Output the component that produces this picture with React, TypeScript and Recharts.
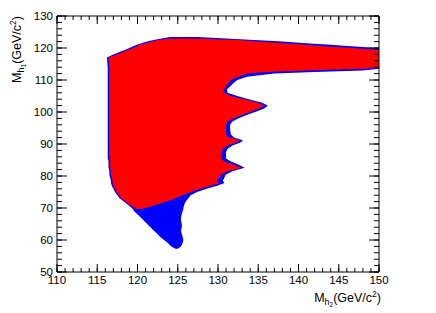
import { ComposedChart, Area, XAxis, YAxis } from "recharts";

// M_h1 rows (GeV/c^2), each row holds the x-range (M_h2) covered by the scan points
const m1 = [
  57.3, 58, 59, 60, 61, 62, 63, 64, 65, 66, 67, 68, 69, 69.7, 70, 71, 72, 73,
  74, 75, 76, 77, 77.8, 78.5, 79.5, 80.5, 81.5, 82.6, 83.5, 84.5, 85.5, 86.5,
  87.5, 88.5, 89.5, 90.5, 91.2, 92, 93, 94.5, 96, 97, 98, 99, 100, 101, 102,
  103, 104, 105, 106, 107, 108, 109, 110, 111, 112, 112.5, 113, 113.5, 113.8,
  117, 118, 119, 119.4, 120, 120.5, 121, 121.5, 122, 122.5, 123, 123.4,
];

// all points (blue)
const blueLo = [
  124.7, 124.2, 123.8, 123.3, 122.8, 122.4, 122.0, 121.6, 121.2, 120.8, 120.4,
  120.0, 119.6, 119.4, 119.3, 118.8, 118.3, 117.8, 117.5, 117.2, 117.0, 116.8,
  116.7, 116.7, 116.6, 116.5, 116.5, 116.4, 116.4, 116.4, 116.3, 116.3, 116.3,
  116.3, 116.3, 116.3, 116.3, 116.3, 116.3, 116.3, 116.3, 116.3, 116.3, 116.3,
  116.3, 116.3, 116.3, 116.3, 116.3, 116.3, 116.3, 116.3, 116.3, 116.3, 116.3,
  116.3, 116.3, 116.3, 116.3, 116.3, 116.3, 116.2, 117.0, 118.0, 118.4, 119.0,
  119.4, 119.9, 120.5, 121.2, 122.0, 123.0, 124.0,
];
const blueHi = [
  125.0, 125.4, 125.6, 125.7, 125.6, 125.5, 125.4, 125.5, 125.5, 125.4, 125.4,
  125.5, 125.6, 125.7, 125.7, 125.8, 126.0, 126.3, 126.6, 127.4, 128.6, 130.0,
  130.8, 130.6, 130.8, 131.0, 131.8, 133.3, 132.6, 131.6, 131.0, 131.0, 131.0,
  131.2, 131.8, 132.8, 133.1, 132.0, 131.6, 131.5, 131.5, 131.8, 132.5, 133.5,
  134.6, 135.7, 136.2, 135.4, 133.8, 132.4, 131.2, 131.1, 131.5, 131.9, 132.4,
  133.6, 137.0, 142.0, 148.0, 150, 150, 150, 150, 150, 150, 150, 147.0, 144.0,
  141.0, 138.0, 134.5, 131.0, 127.5,
];

// points passing the constraints (red)
const redLo = [
  null, null, null, null, null, null, null, null, null, null, null, null, null,
  119.9, 119.7, 119.0, 118.5, 118.0, 117.7, 117.4, 117.2, 117.0, 116.9, 116.9,
  116.8, 116.7, 116.7, 116.6, 116.6, 116.6, 116.5, 116.5, 116.5, 116.5, 116.5,
  116.5, 116.5, 116.5, 116.5, 116.5, 116.5, 116.5, 116.5, 116.5, 116.5, 116.5,
  116.5, 116.5, 116.5, 116.5, 116.5, 116.5, 116.5, 116.5, 116.5, 116.5, 116.5,
  116.5, 116.5, 116.5, 116.5, 116.4, 117.4, 118.4, 118.8, 119.4, 119.9, 120.3,
  121.0, 121.8, 122.6, 124.0, null,
];
const redHi = [
  null, null, null, null, null, null, null, null, null, null, null, null, null,
  120.4, 121.0, 122.4, 123.6, 124.7, 125.6, 126.6, 127.8, 129.2, 130.2, 129.8,
  130.2, 130.4, 131.2, 132.9, 132.0, 130.8, 130.4, 130.4, 130.5, 130.6, 131.2,
  132.3, 132.7, 131.4, 131.0, 131.0, 131.0, 131.2, 131.9, 132.9, 134.0, 135.0,
  135.8, 134.8, 133.2, 131.6, 130.7, 130.7, 131.0, 131.3, 131.6, 132.5, 133.6,
  136.0, 141.0, 148.0, 150, 150, 150, 150, 150, 146.8, 143.5, 140.8, 138.2,
  135.0, 132.5, 127.5, null,
];

const xTicks = [110, 115, 120, 125, 130, 135, 140, 145, 150];
const xMinorTicks = [
  110, 111, 112, 113, 114, 115, 116, 117, 118, 119, 120, 121, 122, 123, 124,
  125, 126, 127, 128, 129, 130, 131, 132, 133, 134, 135, 136, 137, 138, 139,
  140, 141, 142, 143, 144, 145, 146, 147, 148, 149, 150,
];
const yTicks = [50, 60, 70, 80, 90, 100, 110, 120, 130];
const yMinorTicks = [
  50, 52, 54, 56, 58, 60, 62, 64, 66, 68, 70, 72, 74, 76, 78, 80, 82, 84, 86,
  88, 90, 92, 94, 96, 98, 100, 102, 104, 106, 108, 110, 112, 114, 116, 118,
  120, 122, 124, 126, 128, 130,
];

const font = "'Liberation Sans', Arial, Helvetica, sans-serif";
const black = { stroke: "#000" };
// mirrored axes only carry the inward tick marks; a tiny size keeps them rendered
const thin = 0.01;
const noLabel = () => <g />;

export default function App() {
  const data = m1.map((y, i) => ({
    m1: y,
    blue: [blueLo[i], blueHi[i]],
    red: redLo[i] == null ? null : [redLo[i], redHi[i]],
  }));

  const xDeco = (id: string, orientation: "top" | "bottom", ticks: number[], size: number, line: boolean) => (
    <XAxis
      xAxisId={id}
      type="number"
      orientation={orientation}
      mirror
      height={thin}
      domain={[110, 150]}
      allowDataOverflow
      ticks={ticks}
      interval={0}
      tickSize={size}
      tick={noLabel}
      tickLine={black}
      axisLine={line ? black : false}
    />
  );
  const yDeco = (id: string, orientation: "left" | "right", ticks: number[], size: number, line: boolean) => (
    <YAxis
      yAxisId={id}
      dataKey="m1"
      type="number"
      orientation={orientation}
      mirror
      reversed
      width={thin}
      domain={[50, 130]}
      allowDataOverflow
      ticks={ticks}
      interval={0}
      tickSize={size}
      tick={noLabel}
      tickLine={black}
      axisLine={line ? black : false}
    />
  );

  return (
    <div style={{ position: "absolute", left: 0, top: 0, width: 436, height: 313, background: "#fff" }}>
      <ComposedChart
        width={436}
        height={313}
        data={data}
        layout="vertical"
        margin={{ top: 16, right: 57, bottom: 0, left: 0 }}
      >
        <XAxis
          xAxisId="x"
          type="number"
          domain={[110, 150]}
          allowDataOverflow
          ticks={xTicks}
          interval={0}
          height={41}
          tickLine={false}
          tickSize={0}
          tickMargin={4}
          axisLine={black}
          tick={{ fill: "#000", fontSize: 11.5, fontFamily: font }}
        />
        {xDeco("xb1", "bottom", xTicks, 8, false)}
        {xDeco("xb2", "bottom", xMinorTicks, 4, false)}
        {xDeco("xt1", "top", xTicks, 8, true)}
        {xDeco("xt2", "top", xMinorTicks, 4, false)}
        <YAxis
          yAxisId="y"
          dataKey="m1"
          type="number"
          reversed
          domain={[50, 130]}
          allowDataOverflow
          ticks={yTicks}
          interval={0}
          width={57}
          tickLine={false}
          tickSize={0}
          tickMargin={4}
          axisLine={black}
          tick={{ fill: "#000", fontSize: 11.5, fontFamily: font }}
        />
        {yDeco("yl1", "left", yTicks, 10, false)}
        {yDeco("yl2", "left", yMinorTicks, 5, false)}
        {yDeco("yr1", "right", yTicks, 10, true)}
        {yDeco("yr2", "right", yMinorTicks, 5, false)}
        <Area
          xAxisId="x"
          yAxisId="y"
          dataKey="blue"
          type="linear"
          fill="#0000ff"
          fillOpacity={1}
          stroke="none"
          isAnimationActive={false}
        />
        <Area
          xAxisId="x"
          yAxisId="y"
          dataKey="red"
          type="linear"
          fill="#ff0000"
          fillOpacity={1}
          stroke="none"
          isAnimationActive={false}
        />
      </ComposedChart>
      <svg
        width={436}
        height={313}
        style={{ position: "absolute", left: 0, top: 0, pointerEvents: "none" }}
        fontFamily={font}
        fill="#000"
      >
        <text x={381} y={302} textAnchor="end" fontSize={12.5}>
          M<tspan dy={3} fontSize={9}>h</tspan>
          <tspan dy={2} fontSize={6.5}>2</tspan>
          <tspan dy={-5}>(GeV/c</tspan>
          <tspan dy={-5} fontSize={8.5}>2</tspan>
          <tspan dy={5}>)</tspan>
        </text>
        <text transform="translate(21,16) rotate(-90)" textAnchor="end" fontSize={12.5}>
          M<tspan dy={3} fontSize={9}>h</tspan>
          <tspan dy={2} fontSize={6.5}>1</tspan>
          <tspan dy={-5}>(GeV/c</tspan>
          <tspan dy={-5} fontSize={8.5}>2</tspan>
          <tspan dy={5}>)</tspan>
        </text>
      </svg>
    </div>
  );
}
